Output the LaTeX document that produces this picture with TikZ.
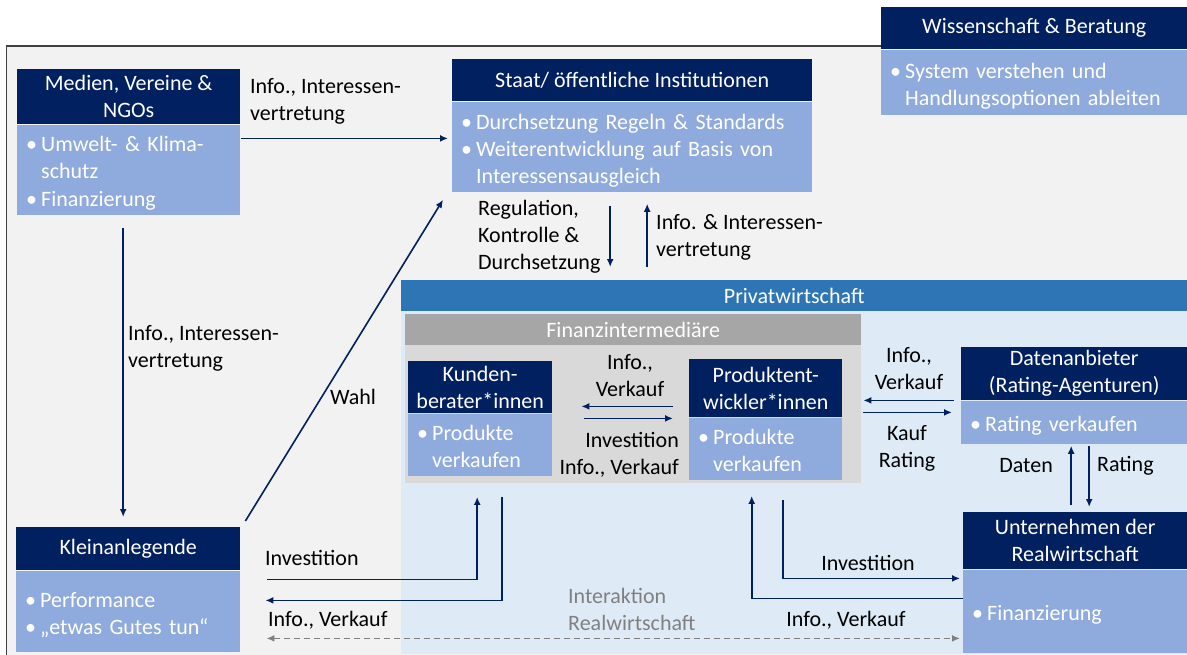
\documentclass[tikz,border=0pt]{standalone}
\usepackage{fontspec}
\setmainfont{Carlito}
\usetikzlibrary{arrows.meta, positioning}
\definecolor{navy}{HTML}{002060}
\definecolor{bodyblue}{HTML}{8FAADC}
\definecolor{pwblue}{HTML}{2E75B6}
\definecolor{paleblue}{HTML}{DEEBF7}
\definecolor{fingray}{HTML}{D9D9D9}
\definecolor{finhead}{HTML}{A6A6A6}
\definecolor{bggray}{HTML}{F2F2F2}
\newcommand{\punkt}[1]{\par\noindent\makebox[15pt][l]{•}\begin{tabular}[t]{@{}l@{}}#1\end{tabular}\par}
\tikzset{%
    head/.style = {fill=navy, text=white, inner sep=0pt, align=center, anchor=north west},
    body/.style = {fill=bodyblue, text=white, inner xsep=9pt, inner ysep=0pt, align=left},
    flow/.style = {draw=navy, line width=1.6pt, -{Latex[length=8pt,width=7pt]}},
    link/.style = {draw=gray, line width=1.6pt, dash pattern=on 6pt off 4pt,
        {Latex[length=8pt,width=7pt]}-{Latex[length=8pt,width=7pt]}},
    lbl/.style = {inner sep=0pt, align=left}
}
\begin{document}
\begin{tikzpicture}[x=1pt, y=-1pt, font=\fontsize{22}{27}\selectfont]
    \useasboundingbox (0,0) rectangle (1187,654);
    \draw[fill=bggray, draw=black!75, line width=1.2pt] (6.5,46) rectangle (1220,690);
    \fill[paleblue] (401,311) rectangle (1187,654);
    \node[head, fill=pwblue, minimum width=786pt, minimum height=31pt] (pw) at (401,280) {Privatwirtschaft};
    \fill[fingray] (405,314) rectangle (861,483);
    \node[head, fill=finhead, minimum width=456pt, minimum height=31pt] (fiH) at (405,314) {Finanzintermediäre};

    \node[head, minimum width=306pt, minimum height=42pt] (wiH) at (881,7) {Wissenschaft \& Beratung};
    \node[body, below=0pt of wiH, text width=288pt, minimum height=65pt] (wiB) {\punkt{System verstehen und\\Handlungsoptionen ableiten}};
    \node[head, minimum width=223pt, minimum height=55pt] (medH) at (17,69) {Medien, Vereine \&\\NGOs};
    \node[body, below=0pt of medH, text width=205pt, minimum height=90pt] (medB) {\punkt{Umwelt- \& Klima-\\schutz}\punkt{Finanzierung}};
    \node[head, minimum width=360pt, minimum height=42pt] (stH) at (452,59) {Staat/ öffentliche Institutionen};
    \node[body, below=0pt of stH, text width=342pt, minimum height=90pt] (stB) {\punkt{Durchsetzung Regeln \& Standards}\punkt{Weiterentwicklung auf Basis von\\Interessensausgleich}};
    \node[head, minimum width=224pt, minimum height=43pt] (klH) at (16,527) {Kleinanlegende};
    \node[body, below=0pt of klH, text width=206pt, minimum height=81pt] (klB) {\punkt{Performance}\punkt{„etwas Gutes tun“}};
    \node[head, minimum width=144pt, minimum height=52pt] (kuH) at (408,361) {Kunden-\\berater*innen};
    \node[body, below=0pt of kuH, text width=126pt, minimum height=53pt] (kuB) {\punkt{Produkte\\verkaufen}};
    \node[head, minimum width=153pt, minimum height=58pt] (prH) at (689,359) {Produktent-\\wickler*innen};
    \node[body, below=0pt of prH, text width=135pt, minimum height=56pt] (prB) {\punkt{Produkte\\verkaufen}};
    \node[head, minimum width=226pt, minimum height=53pt] (daH) at (961,347) {Datenanbieter\\(Rating-Agenturen)};
    \node[body, below=0pt of daH, text width=208pt, minimum height=43pt] (daB) {\punkt{Rating verkaufen}};
    \node[head, minimum width=224pt, minimum height=57pt] (unH) at (963,512) {Unternehmen der\\Realwirtschaft};
    \node[body, below=0pt of unH, text width=206pt, minimum height=83pt] (unB) {\punkt{Finanzierung}};

    \coordinate (m1) at ([xshift=1pt,yshift=-14pt]medB.north east);
    \draw[flow] (m1) -- ([xshift=-4pt]m1 -| stB.west);
    \coordinate (v1) at ([xshift=-5.5pt,yshift=-13pt]medB.south);
    \draw[flow] (v1) -- ([yshift=10pt]v1 |- klH.north);
    \draw[flow] ([xshift=5pt,yshift=6pt]klH.north east) -- ([xshift=-9pt,yshift=-8pt]stB.south west);
    \coordinate (r1) at ([xshift=-22pt,yshift=-14pt]stB.south);
    \draw[flow] (r1) -- ([yshift=13pt]r1 |- pw.north);
    \coordinate (r2) at ([xshift=15pt,yshift=-12pt]stB.south);
    \draw[flow] ([yshift=13pt]r2 |- pw.north) -- (r2);
    \coordinate (k1) at ([xshift=-16pt,yshift=11pt]prH.south west);
    \draw[flow] (k1) -- ([xshift=29pt]k1 -| kuH.east);
    \coordinate (k2) at ([xshift=32pt,yshift=-5pt]kuH.south east);
    \draw[flow] (k2) -- ([xshift=-16pt]k2 -| prH.west);
    \coordinate (d1) at ([xshift=-7pt]daH.south west);
    \draw[flow] (d1) -- ([xshift=21pt]d1 -| prH.east);
    \coordinate (d2) at ([xshift=21pt,yshift=5pt]prH.south east);
    \draw[flow] (d2) -- ([xshift=-9pt]d2 -| daH.west);
    \coordinate (u1) at ([xshift=-4pt,yshift=7pt]unH.north);
    \draw[flow] (u1) -- ([yshift=-2pt]u1 |- daB.south);
    \coordinate (u2) at ([xshift=15pt,yshift=-2pt]daB.south);
    \draw[flow] (u2) -- ([yshift=5pt]u2 |- unH.north);
    \draw[flow] ([xshift=17.5pt,yshift=-20pt]prB.south) |- ([xshift=-3pt,yshift=-9pt]unB.north west);
    \draw[flow] ([yshift=-29pt]unB.north west) -| ([xshift=-14pt,yshift=-16pt]prB.south);
    \draw[flow] ([xshift=27pt,yshift=-9pt]klH.south east) -| ([xshift=-3pt,yshift=-21pt]kuB.south);
    \draw[flow] ([xshift=22pt,yshift=-21pt]kuB.south) |- ([xshift=25pt,yshift=-30pt]klH.south east);
    \coordinate (g1) at ([xshift=26pt,yshift=-68pt]klH.south east);
    \draw[link] (g1) -- ([xshift=-3pt]g1 -| unB.west);

    \node[lbl, anchor=west] (l1) at (250,101.5) {Info., Interessen-\\vertretung};
    \node[lbl, anchor=west] (l2) at (128,348.5) {Info., Interessen-\\vertretung};
    \node[lbl] (l3) at (353,397) {Wahl};
    \node[lbl, anchor=west] (l4) at (478,236.5) {Regulation,\\Kontrolle \&\\Durchsetzung};
    \node[lbl, anchor=west] (l5) at (656,237.5) {Info. \& Interessen-\\vertretung};
    \node[lbl, align=center] (l6) at (630,376) {Info.,\\Verkauf};
    \node[lbl, align=right, anchor=east] (l7) at (679,455) {Investition\\Info., Verkauf};
    \node[lbl, align=center] (l8) at (909,369) {Info.,\\Verkauf};
    \node[lbl, align=center] (l9) at (907,448) {Kauf\\Rating};
    \node[lbl, anchor=east] (l10) at (1053,466) {Daten};
    \node[lbl, anchor=west] (l11) at (1097,466) {Rating};
    \node[lbl] (l12) at (868,563) {Investition};
    \node[lbl] (l13) at (846,620) {Info., Verkauf};
    \node[lbl, anchor=west] (l14) at (265,558) {Investition};
    \node[lbl, anchor=west] (l15) at (268,620) {Info., Verkauf};
    \node[lbl, anchor=west, text=gray] (l16) at (568,609) {Interaktion\\Realwirtschaft};
\end{tikzpicture}
\end{document}
